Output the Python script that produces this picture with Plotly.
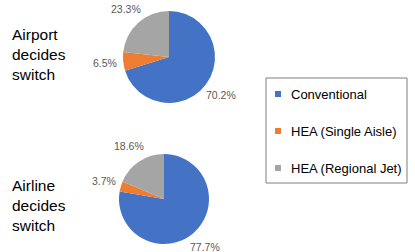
import math
import plotly.graph_objects as go

categories = ["Conventional", "HEA (Single Aisle)", "HEA (Regional Jet)"]
airport_values = [70.2, 6.5, 23.3]
airline_values = [77.7, 3.7, 18.6]
row_titles = ["Airport<br>decides<br>switch", "Airline<br>decides<br>switch"]
colors = ["#4472C4", "#ED7D31", "#A5A5A5"]

W, H = 415, 252
fig = go.Figure()
annotations = []
label_font = dict(size=10.5, color="#595959", family="Liberation Sans, Arial")


def add_pie(values, cx, cy, r, dist):
    fig.add_trace(go.Pie(
        labels=categories, values=values, sort=False, direction="clockwise",
        rotation=0, marker=dict(colors=colors, line=dict(width=0)),
        textinfo="none",
        domain=dict(x=[(cx - r) / W, (cx + r) / W], y=[1 - (cy + r) / H, 1 - (cy - r) / H]),
        showlegend=False, hoverinfo="label+percent",
    ))
    total = sum(values)
    start = 0.0
    for v in values:
        mid = (start + v / 2) / total * 2 * math.pi
        start += v
        lx = cx + dist * math.sin(mid)
        ly = cy - dist * math.cos(mid)
        annotations.append(dict(text=f"{v / total * 100:.1f}%", x=lx / W, y=1 - ly / H,
                                xref="paper", yref="paper", xanchor="center", yanchor="middle",
                                showarrow=False, font=label_font))


add_pie(airport_values, 169, 57, 46, 64)
add_pie(airline_values, 164, 199, 45, 63)

for t, y in zip(row_titles, [54, 205]):
    annotations.append(dict(text=t, x=10 / W, y=1 - y / H, xref="paper", yref="paper",
                            xanchor="left", yanchor="middle", align="left", showarrow=False,
                            font=dict(size=15.5, color="#000000", family="Liberation Sans, Arial")))

shapes = [dict(type="rect", xref="paper", yref="paper", x0=266 / W, x1=407 / W,
               y0=1 - 183 / H, y1=1 - 78 / H, line=dict(color="#7f7f7f", width=1))]
for i, (c, col) in enumerate(zip(categories, colors)):
    yc = 94 + i * 37
    shapes.append(dict(type="rect", xref="paper", yref="paper", x0=275 / W, x1=281 / W,
                       y0=1 - (yc + 3) / H, y1=1 - (yc - 3) / H, fillcolor=col, line=dict(width=0)))
    annotations.append(dict(text=c, x=289 / W, y=1 - yc / H, xref="paper", yref="paper",
                            xanchor="left", yanchor="middle", showarrow=False,
                            font=dict(size=13, color="#000000", family="Liberation Sans, Arial")))

fig.update_layout(width=W, height=H, margin=dict(l=0, r=0, t=0, b=0),
                  paper_bgcolor="white", plot_bgcolor="white",
                  annotations=annotations, shapes=shapes)
fig.write_html("out.html", config={"displayModeBar": False},
               post_script="document.body.style.margin='0';document.body.style.overflow='hidden';")
